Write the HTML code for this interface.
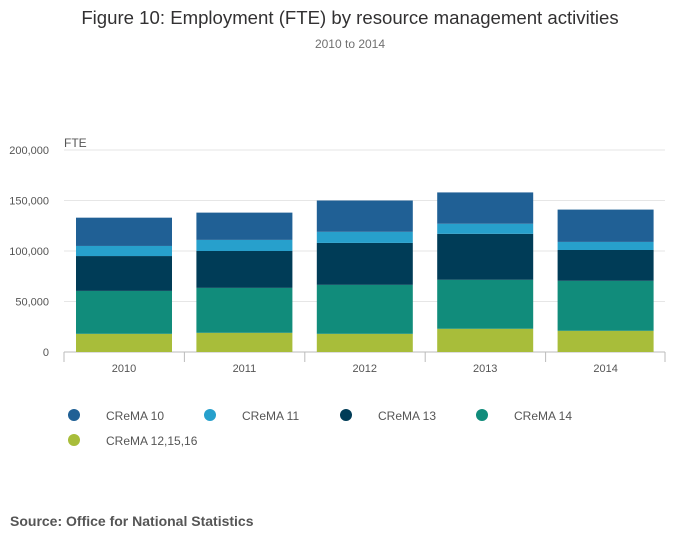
<!DOCTYPE html>
<html><head><meta charset="utf-8"><style>
body{margin:0;background:#fff;font-family:"Liberation Sans",sans-serif;}
svg text{font-family:"Liberation Sans",sans-serif;}
</style></head><body>
<svg width="700" height="549" id="c">
<text x="350" y="24" text-anchor="middle" font-size="18.6" fill="#323132">Figure 10: Employment (FTE) by resource management activities</text>
<text x="350" y="48" text-anchor="middle" font-size="12" fill="#707070">2010 to 2014</text>
<text x="64" y="147" font-size="12" fill="#555">FTE</text>
<g id="grid"></g><g id="bars"></g><g id="xax"></g><g id="legend"></g>
<text x="10" y="526" font-size="14" font-weight="bold" fill="#555">Source: Office for National Statistics</text>
</svg>
<script>
const categories=["2010","2011","2012","2013","2014"];
const seriesNames=["CReMA 12,15,16","CReMA 14","CReMA 13","CReMA 11","CReMA 10"];
const crema121516=[18000,19000,18000,23000,21000];
const crema14=[42500,44500,48500,48500,49500];
const crema13=[34500,36500,41500,45500,30500];
const crema11=[10000,11000,11000,10000,8000];
const crema10=[28000,27000,31000,31000,32000];
const yTicks=[0,50000,100000,150000,200000];
const colors=["#a8bd3a","#118c7b","#003c57","#27a0cc","#206095"];
const series=[crema121516,crema14,crema13,crema11,crema10];
const ns="http://www.w3.org/2000/svg";
function y(v){return 352-v/200000*202;}
function xb(i){return 64+i*120.4;}
function mk(t,a,p){const e=document.createElementNS(ns,t);for(const k in a)e.setAttribute(k,a[k]);p.appendChild(e);return e;}
const g=document.getElementById('grid');
yTicks.forEach(v=>{
 const l=mk('line',{x1:64,x2:665,y1:y(v),y2:y(v),stroke:v===0?'#bbb':'#e6e6e6'},g);
 
 
 const t=mk('text',{x:49,y:y(v)+4,'text-anchor':'end','font-size':11,fill:'#555'},g);t.textContent=v.toLocaleString('en-US');
 
 
});
const b=document.getElementById('bars'),xa=document.getElementById('xax');
categories.forEach((c,i)=>{
 let acc=0;
 series.forEach((s,j)=>{
  const r=mk('rect',{x:xb(i)+12,width:96,y:y(acc+s[i]),height:y(acc)-y(acc+s[i]),fill:colors[j]},b);
  
  
  acc+=s[i];
 });
 const tk=mk('line',{x1:xb(i),x2:xb(i),y1:352,y2:362,stroke:'#bbb'},xa);
 
 
 const t=mk('text',{x:xb(i)+60,y:372,'text-anchor':'middle','font-size':11,fill:'#555'},xa);t.textContent=c;
 
 
});
const le=mk('line',{x1:665,x2:665,y1:352,y2:362,stroke:'#bbb'},xa);


const lg=document.getElementById('legend');
const order=[4,3,2,1,0];
order.forEach((j,k)=>{
 const cx=k<4?74+k*136:74, cy=k<4?415:440;
 const gg=mk('g',{},lg);
 
 
 mk('circle',{cx:cx,cy:cy,r:6,fill:colors[j]},gg);
 const t=mk('text',{x:cx+32,y:cy+5,'font-size':12,fill:'#555'},gg);t.textContent=seriesNames[j];
});
</script>
</body></html>
